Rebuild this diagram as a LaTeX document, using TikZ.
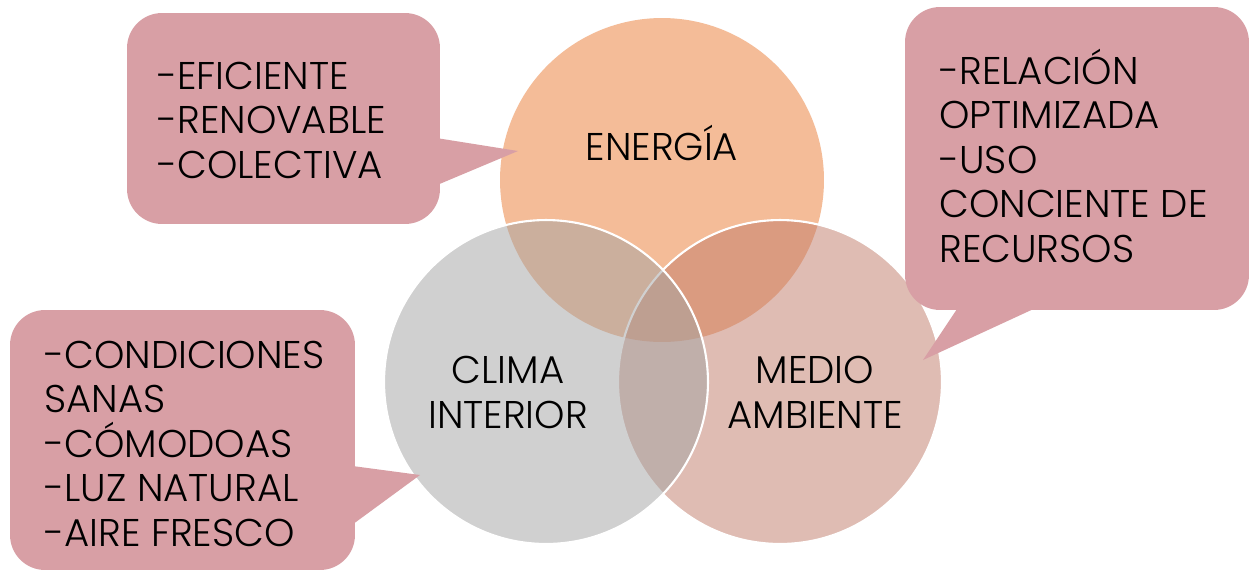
\documentclass[tikz,border=0pt]{standalone}
\usepackage{fontspec}
\setmainfont{Poppins}[UprightFont=* Light]
\usetikzlibrary{positioning}
\definecolor{energia}{RGB}{244,188,152}
\definecolor{medio}{RGB}{193,123,105}
\definecolor{clima}{RGB}{163,163,163}
\definecolor{rosa}{RGB}{216,159,165}

\begin{document}
\begin{tikzpicture}[
          x=0.02cm, y=-0.02cm,
          every node/.style={inner sep=0pt},
          circulo/.style={circle, minimum size=6.48cm},
          caja/.style={fill=rosa, rounded corners=0.7cm},
          texto/.style={align=left, anchor=base west, font=\fontsize{22}{25.3}\selectfont},
          titulo/.style={align=center, anchor=base, font=\fontsize{22}{25.3}\selectfont}
        ]
          \clip (0,0) rectangle (1249,569);
          \fill[white] (0,0) rectangle (1249,569);

          % circulos
          \node[circulo, fill=energia] (energia) at (662,180) {};
          \node[circulo, fill=medio, fill opacity=0.5, draw=white, line width=1.2pt] (medio) at (780,382) {};
          \node[circulo, fill=clima, fill opacity=0.5, draw=white, line width=1.2pt] (clima) at (546,382) {};

          \node[titulo] (tenergia) at (662,160) {ENERGÍA};
          \node[titulo] (tclima) at (508,428) {CLIMA\\INTERIOR};
          \node[titulo] (tmedio) at (815,428) {MEDIO\\AMBIENTE};

          % globos
          \node[caja, minimum width=6.26cm, minimum height=4.22cm] (caja1) at (283.5,118.5) {};
          \coordinate (punta1) at (518,151);
          \fill[rosa] (430,137) -- (punta1) -- (430,188) -- cycle;

          \node[caja, minimum width=6.88cm, minimum height=6.06cm] (caja2) at (1077,158.5) {};
          \coordinate (punta2) at (923,360);
          \fill[rosa] (963,300) -- (punta2) -- (1053,300) -- cycle;

          \node[caja, minimum width=6.9cm, minimum height=5.2cm] (caja3) at (182.5,440) {};
          \coordinate (punta3) at (420,475);
          \fill[rosa] (345,465) -- (punta3) -- (345,530) -- cycle;

          \node[texto] (lista1) at (157,178) {-EFICIENTE\\-RENOVABLE\\-COLECTIVA};
          \node[texto] (lista2) at (939,262) {-RELACIÓN\\OPTIMIZADA\\-USO\\CONCIENTE DE\\RECURSOS};
          \node[texto] (lista3) at (44,546) {-CONDICIONES\\SANAS\\-CÓMODOAS\\-LUZ NATURAL\\-AIRE FRESCO};
        \end{tikzpicture}
\end{document}
